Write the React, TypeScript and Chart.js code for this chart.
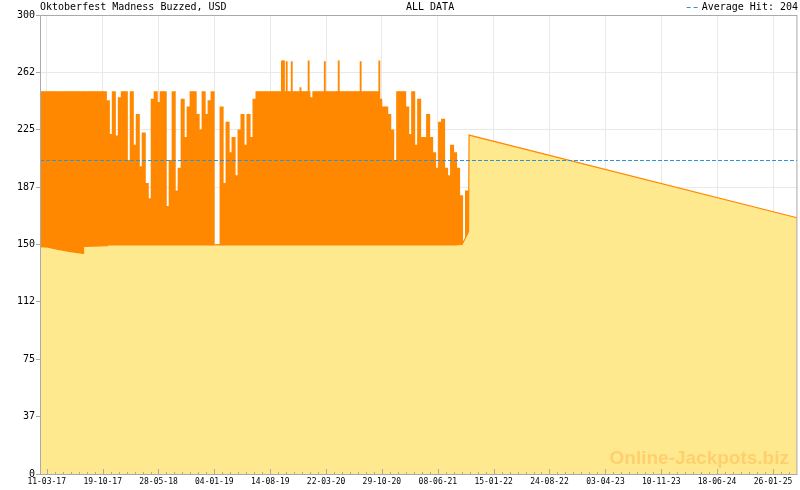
import React, { useEffect, useRef } from 'react';
import { Chart, registerables } from 'chart.js';

Chart.register(...registerables);

// ---------- series ----------
const avgHit = 204.9;

// ---------- text ----------
const chartTitle = 'Oktoberfest Madness Buzzed, USD';
const periodLabel = 'ALL DATA';
const avgLabel = 'Average Hit: ' + Math.floor(avgHit);
const watermark = 'Online-Jackpots.biz';

// ---------- x axis tick labels (dd-mm-yy) ----------
const tickLabels = [
  '11-03-17', '19-10-17', '28-05-18', '04-01-19', '14-08-19', '22-03-20', '29-10-20',
  '08-06-21', '15-01-22', '24-08-22', '03-04-23', '10-11-23', '18-06-24', '26-01-25',
];

// axis range in days from 11-03-17
const xMinDay = -26.5;
const xMaxDay = 2974.5;

// jackpot peak reached in each sampling column of the busy period (USD)
const buzzStartDay = -18.6;
const buzzStepDays = 11.86;
const buzzPeaks = [
  250, 250, 250, 250, 250, 250, 250, 250, 250, 250,
  250, 250, 250, 250, 250, 250, 250, 250, 250, 250,
  250, 250, 244, 222, 250, 221, 246, 250, 250, 205,
  250, 215, 235, 201, 223, 190, 180, 245, 250, 243,
  250, 250, 175, 205, 250, 185, 200, 245, 220, 240,
  250, 250, 235, 225, 250, 235, 244, 250, 149, 150,
  240, 190, 230, 210, 220, 195, 225, 235, 215, 235,
  220, 245, 250, 250, 250, 250, 250, 250, 250, 250,
  250, 250, 250, 250, 250, 250, 250, 250, 250, 250,
  246, 250, 250, 250, 250, 250, 250, 250, 250, 250,
  250, 250, 250, 250, 250, 250, 250, 250, 250, 250,
  250, 250, 250, 245, 240, 240, 235, 225, 205, 250,
  250, 250, 240, 222, 250, 215, 245, 220, 220, 235,
  220, 210, 200, 230, 232, 200, 195, 215, 210, 200,
  182, 150, 185,
];

// occasional higher hits
const spikeDays = [932, 936, 940, 951, 971, 1005.5, 1038, 1102, 1157, 1244, 1318];
const spikeValues = [270, 270, 270, 269.5, 269.5, 252.5, 270, 269.5, 270, 269.5, 270];

// jackpot floor / current jackpot line (USD)
const floorDays = [-26.5, 5, 40, 90, 144, 146, 240, 244, 1620, 1646, 1671.5, 1673.5, 2973];
const floorValues = [148.6, 148.3, 147, 145.5, 144.2, 148.7, 149.2, 149.7, 149.7, 150, 158.5, 221.5, 167.5];

// ---------- colours ----------
const ORANGE = '#ff8800';
const YELLOW = '#ffe98f';
const BLUE = '#2b95d6';
const GRID = '#e9e9e9';
const FRAME = '#aaaaaa';
const MONO = '"DejaVu Sans Mono", monospace';

function labelToMs(label: string): number {
  const [d, m, y] = label.split('-').map(Number);
  return Date.UTC(2000 + y, m - 1, d);
}
const epochMs = labelToMs(tickLabels[0]);
const majorDays = tickLabels.map((l) => (labelToMs(l) - epochMs) / 86400000);

type T = { value: number; major: boolean; label: string };
function buildTicks(): T[] {
  const out: T[] = [];
  for (let i = 0; i < majorDays.length; i++) {
    out.push({ value: majorDays[i], major: true, label: tickLabels[i] });
    const step =
      i < majorDays.length - 1
        ? (majorDays[i + 1] - majorDays[i]) / 7
        : (majorDays[i] - majorDays[0]) / (majorDays.length - 1) / 7;
    for (let k = 1; k < 7; k++) {
      const v = majorDays[i] + step * k;
      if (v > xMaxDay) break;
      out.push({ value: v, major: false, label: '' });
    }
  }
  return out;
}
const allTicks = buildTicks();

const decorPlugin = {
  id: 'decor',
  afterDatasetsDraw(chart: any) {
    const { ctx, chartArea } = chart;
    const { left, top, right, bottom } = chartArea;
    const xs = chart.scales.x;
    ctx.save();

    // watermark
    ctx.font = 'bold 19px "Liberation Sans", Arial, sans-serif';
    ctx.fillStyle = '#ffcf6e';
    ctx.textAlign = 'right';
    ctx.textBaseline = 'alphabetic';
    ctx.fillText(watermark, 789, 464);

    // x tick marks pointing inward
    ctx.strokeStyle = FRAME;
    ctx.lineWidth = 1;
    ctx.beginPath();
    for (const t of allTicks) {
      const px = Math.round(xs.getPixelForValue(t.value)) + 0.5;
      if (px < left || px > right) continue;
      ctx.moveTo(px, bottom);
      ctx.lineTo(px, bottom - (t.major ? 5 : 2));
    }
    ctx.stroke();

    // frame
    ctx.strokeRect(left + 0.5, top + 0.5, right - left - 1, bottom - top);

    // header
    ctx.font = '10px ' + MONO;
    ctx.fillStyle = '#000';
    ctx.textBaseline = 'middle';
    ctx.textAlign = 'left';
    ctx.fillText(chartTitle, 40, 7);
    ctx.fillText(periodLabel, 406, 7);
    ctx.textAlign = 'right';
    ctx.fillText(avgLabel, 798, 7);
    const w = ctx.measureText(avgLabel).width;
    const tl = 798 - w;
    ctx.strokeStyle = BLUE;
    ctx.setLineDash([4, 3]);
    ctx.beginPath();
    ctx.moveTo(tl - 15, 7.5);
    ctx.lineTo(tl - 3, 7.5);
    ctx.stroke();
    ctx.restore();
  },
};

export default function App() {
  const ref = useRef<HTMLCanvasElement | null>(null);

  useEffect(() => {
    if (!ref.current) return;
    const chart = new Chart(ref.current, {
      type: 'line',
      data: {
        datasets: [
          {
            type: 'line',
            label: 'Average Hit',
            data: [
              { x: xMinDay, y: avgHit },
              { x: xMaxDay, y: avgHit },
            ],
            borderColor: BLUE,
            borderWidth: 1,
            borderDash: [4, 2],
            pointRadius: 0,
            fill: false,
            order: 0,
          },
          {
            type: 'line',
            label: 'Jackpot',
            data: floorDays.map((d, i) => ({ x: d, y: floorValues[i] })),
            borderColor: ORANGE,
            borderWidth: 1.2,
            backgroundColor: YELLOW,
            fill: 'origin',
            pointRadius: 0,
            tension: 0,
            order: 1,
          },
          {
            type: 'bar',
            label: 'Spikes',
            data: spikeDays.map((d, i) => ({ x: d, y: spikeValues[i] })),
            backgroundColor: ORANGE,
            borderWidth: 0,
            barThickness: 1.2,
            stack: 'a',
            order: 2,
          },
          {
            type: 'bar',
            label: 'Peaks',
            data: buzzPeaks.map((v, i) => ({ x: buzzStartDay + i * buzzStepDays, y: v })),
            backgroundColor: ORANGE,
            borderWidth: 0,
            barThickness: 3.4,
            stack: 'a',
            order: 3,
          },
        ] as any,
      },
      options: {
        animation: false,
        responsive: false,
        events: [],
        layout: { padding: { top: 15, right: 1, left: 0, bottom: 0 } },
        plugins: {
          legend: { display: false },
          tooltip: { enabled: false },
          title: { display: false },
        },
        scales: {
          x: {
            type: 'linear',
            min: xMinDay,
            max: xMaxDay,
            offset: false,
            afterFit(s: any) {
              s.height = 16;
            },
            afterBuildTicks(s: any) {
              s.ticks = allTicks.map((t) => ({ value: t.value, major: t.major }));
            },
            grid: {
              offset: false,
              drawTicks: false,
              color: (c: any) => (c.tick && c.tick.major ? GRID : 'rgba(0,0,0,0)'),
              lineWidth: 1,
            },
            border: { display: false },
            ticks: {
              autoSkip: false,
              maxRotation: 0,
              minRotation: 0,
              padding: 3,
              color: '#000',
              font: { family: MONO, size: 8 },
              callback: (_v: any, i: number) => (allTicks[i] ? allTicks[i].label : ''),
            },
          },
          y: {
            type: 'linear',
            min: 0,
            max: 300,
            stacked: false,
            afterFit(s: any) {
              s.width = 40;
            },
            grid: { color: GRID, tickColor: FRAME, tickLength: 4, drawTicks: true },
            border: { display: false },
            ticks: {
              stepSize: 37.5,
              padding: 1,
              color: '#000',
              font: { family: MONO, size: 10 },
              callback: (v: any) => String(Math.floor(Number(v))),
            },
          },
        },
      } as any,
      plugins: [decorPlugin],
    });
    return () => chart.destroy();
  }, []);

  return (
    <div style={{ position: 'fixed', left: 0, top: 0, width: 800, height: 490, background: '#fff' }}>
      <canvas ref={ref} width={800} height={490} style={{ display: 'block', width: 800, height: 490 }} />
    </div>
  );
}
